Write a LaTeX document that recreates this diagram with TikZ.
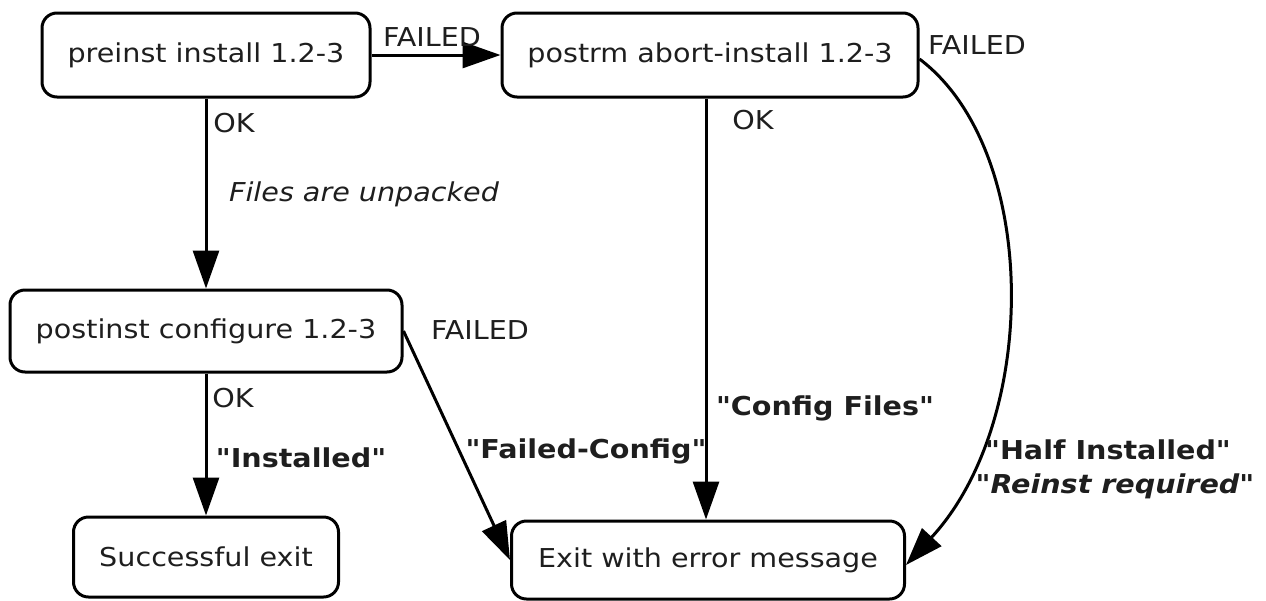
\documentclass[tikz,border=0pt]{standalone}
\usepackage{fontspec}
\setmainfont[FakeStretch=1.1,Ligatures=TeXOff]{DejaVu Sans}
\usetikzlibrary{arrows.meta}
\definecolor{txt}{HTML}{1E1E1E}
\begin{document}
\begin{tikzpicture}[x=1pt,y=-1pt,
  every node/.style={font=\fontsize{26}{30}\selectfont, text=txt},
  state/.style={draw=black, line width=3pt, rounded corners=15pt, inner sep=0pt},
  lbl/.style={inner sep=0pt},
  conn/.style={draw=black, line width=3pt, -{Triangle[length=38pt,width=26pt]}}]
\useasboundingbox (0,0) rectangle (1266,600);
\node[state, minimum width=328pt, minimum height=84pt] (n1) at (206,55) {preinst install 1.2-3};
\node[state, minimum width=416pt, minimum height=84pt] (n2) at (710,55) {postrm abort-install 1.2-3};
\node[state, minimum width=392pt, minimum height=82pt] (n3) at (206,331) {postinst configure 1.2-3};
\node[state, minimum width=265pt, minimum height=80pt] (n4) at (206,557) {Successful exit};
\node[state, minimum width=393pt, minimum height=78pt] (n5) at (708,560) {Exit with error message};

\draw[conn] (n1.east) -- (n2.west);
\draw[conn] (n1.south) -- (n3.north);
\draw[conn] (n3.south) -- (n4.north);
\draw[conn] (n2.south -| 706,0) -- (n5.north -| 706,0);
\draw[conn] (n3.east) -- (n5.west);
\draw[conn] ([yshift=-4pt]n2.east) .. controls (1040,150) and (1040,420) .. ([yshift=-5pt]n5.east);

\node[lbl] (l1) at (432,37) {FAILED};
\node[lbl] (l2) at (977,45) {FAILED};
\node[lbl] (l3) at (234,123) {OK};
\node[lbl] (l4) at (364,194) {\itshape Files are unpacked};
\node[lbl] (l5) at (753,120) {OK};
\node[lbl] (l6) at (480,330) {FAILED};
\node[lbl] (l7) at (233,398) {OK};
\node[lbl] (l8) at (301,458) {\bfseries "Installed"};
\node[lbl] (l9) at (586,451) {\bfseries "Failed-Config"};
\node[lbl] (l10) at (825,408) {\bfseries "Config Files"};
\node[lbl] (l11) at (1108,450) {\bfseries "Half Installed"};
\node[lbl] (l12) at (1115,486) {\bfseries\itshape "Reinst required"};
\end{tikzpicture}
\end{document}
